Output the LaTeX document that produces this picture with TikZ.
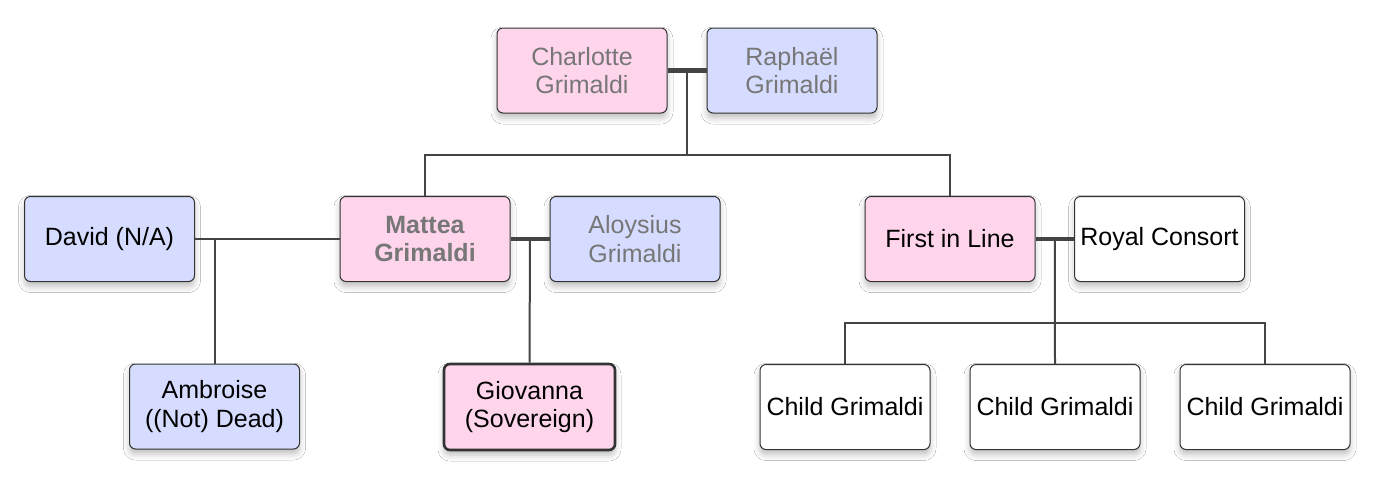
\documentclass[tikz,border=0pt]{standalone}
\usepackage{fontspec}
\setmainfont{Liberation Sans}
\usetikzlibrary{shadows.blur,calc}
\definecolor{pinkf}{HTML}{FFD5EC}
\definecolor{bluef}{HTML}{D5DCFF}
\definecolor{edgec}{HTML}{333333}
\definecolor{linec}{HTML}{444444}
\definecolor{graytxt}{HTML}{777777}
\tikzset{
  person/.style={draw=edgec, line width=1pt, rounded corners=6pt, minimum width=170pt, minimum height=85pt,
    align=center, inner sep=0pt, font=\fontsize{25}{28.5}\selectfont,
    blur shadow={shadow xshift=0pt, shadow yshift=-5pt, shadow blur radius=6pt, shadow opacity=25}},
  pinkbox/.style={person, fill=pinkf},
  bluebox/.style={person, fill=bluef},
  whitebox/.style={person, fill=white},
  faded/.style={text=graytxt},
  rel/.style={draw=linec, line width=2pt},
  couple/.style={draw=linec, line width=4.5pt},
}
\begin{document}
\begin{tikzpicture}[x=1pt,y=-1pt]
\useasboundingbox[fill=white] (0,0) rectangle (1379,477);
% generation 1
\node[pinkbox,faded] (ch) at (582,70.5) {Charlotte\\Grimaldi};
\node[bluebox,faded] (ra) at (792,70.5) {Raphaël\\Grimaldi};
% generation 2
\node[bluebox] (da) at (109.5,239) {David (N/A)};
\node[pinkbox,faded,font=\fontsize{25}{28.5}\selectfont\bfseries] (ma) at (425,239) {Mattea\\Grimaldi};
\node[bluebox,faded] (al) at (635,239) {Aloysius\\Grimaldi};
\node[pinkbox] (fi) at (950,239) {First in Line};
\node[whitebox] (ro) at (1159.5,239) {Royal Consort};
% generation 3
\node[bluebox] (am) at (214.5,406.5) {Ambroise\\((Not) Dead)};
\node[pinkbox, line width=2.6pt, minimum width=171pt, minimum height=86pt] (gi) at (529.5,407) {Giovanna\\(Sovereign)};
\node[whitebox] (c1) at (845,407) {Child Grimaldi};
\node[whitebox] (c2) at (1055,407) {Child Grimaldi};
\node[whitebox] (c3) at (1265,407) {Child Grimaldi};
% junction coordinates
\coordinate (m1) at ($(ch.east)!0.5!(ra.west)$);
\coordinate (b1) at (m1 |- 0,155);
\coordinate (m2) at ($(ma.east)!0.5!(al.west)$);
\coordinate (m3) at ($(fi.east)!0.5!(ro.west)$);
\coordinate (b3) at (m3 |- 0,323);
\coordinate (md) at (am.north |- da.east);
% connectors
\draw[rel] (m1) -- (b1);
\draw[rel] (ma.north) |- (b1) -| (fi.north);
\draw[rel] (da.east) -- (ma.west);
\draw[rel] (md) -- (am.north);
\draw[rel] (m2) -- (gi.north);
\draw[rel] (m3) -- (c2.north);
\draw[rel] (c1.north) |- (b3) -| (c3.north);
\draw[couple] (ch.east) -- (ra.west);
\draw[couple] (ma.east) -- (al.west);
\draw[couple] (fi.east) -- (ro.west);
\end{tikzpicture}
\end{document}
